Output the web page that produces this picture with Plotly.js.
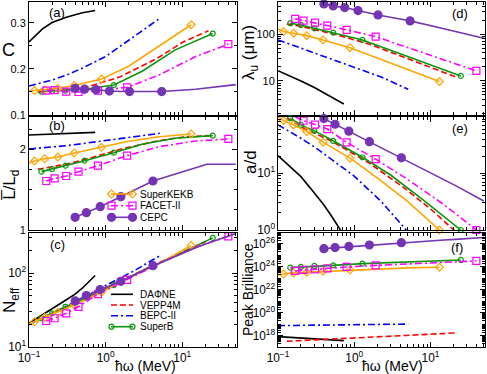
<!DOCTYPE html>
<html>
<head>
<meta charset="utf-8">
<script src="https://cdn.plot.ly/plotly-3.0.1.min.js"></script>
<style>
  html, body { margin: 0; padding: 0; background: #fff; }
  #chart { width: 487px; height: 374px; }
</style>
</head>
<body>
<div id="chart"></div>
<script>
const W = 487, H = 374;

// photon energy grids (MeV) and the six quantities per machine:
// C, Lbar/Ld, N_eff, lambda_u (um), a/d, peak brilliance
const xDafne = [0.1, 0.15, 0.2, 0.3, 0.4, 0.5, 0.73];
const cDafne = [0.259, 0.287, 0.301, 0.312, 0.318, 0.322, 0.327];
const lDafne = [2.177, 2.183, 2.187, 2.193, 2.198, 2.202, 2.21];
const nDafne = [21, 27, 33, 43, 52, 63, 93];
const lamDafne = [16.6, 12.4, 10, 7.2, 5.6, 4.6, 3.2];
const adDafne = [20.4, 12.6, 8.7, 4.5, 2.75, 1.78, 0.81];
const brDafne = [8.1e17, 6.9e17, 6.3e17, 5.2e17, 4.7e17, 4.3e17, 3.6e17];

const xVepp = [0.13, 0.2, 0.3, 0.55, 1.55, 4.7, 10.4, 22];
const cVepp = [0.150, 0.152, 0.154, 0.160, 0.183, 0.223, 0.259, 0.283];
const lVepp = [1.752, 1.785, 1.814, 1.875, 2.0, 2.103, 2.152, 2.169];
const nVepp = [23, 28.5, 35, 47, 78, 135, 196, 280];
const lamVepp = [166, 148, 126, 100, 62, 31.5, 19.3, 12.0];
const adVepp = [95, 66, 51, 34.5, 15.3, 5.3, 2.25, 0.9];
const brVepp = [3.2e17, 3.6e17, 4.2e17, 5.0e17, 7.1e17, 1.02e18, 1.32e18, 1.7e18];

const xBepc = [0.1, 0.2, 0.31, 0.5, 1, 2.3, 5.1];
const cBepc = [0.163, 0.176, 0.187, 0.202, 0.227, 0.270, 0.310];
const lBepc = [2.004, 2.025, 2.045, 2.07, 2.107, 2.152, 2.198];
const nBepc = [20, 28.5, 36, 46, 68, 106, 172];
const lamBepc = [75.5, 50.1, 39.2, 29.2, 19.3, 12.0, 6.6];
const adBepc = [71, 41.3, 28.2, 17.6, 8.9, 3.1, 0.91];
const brBepc = [7.4e18, 7.9e18, 8.5e18, 8.9e18, 9.5e18, 1.0e19, 1.0e19];

const xSuperB = [0.145, 0.2, 0.3, 0.53, 1.28, 3, 8, 25];
const cSuperB = [0.151, 0.152, 0.153, 0.156, 0.165, 0.195, 0.241, 0.277];
const lSuperB = [1.723, 1.756, 1.797, 1.859, 1.958, 2.062, 2.136, 2.169];
const nSuperB = [24.5, 28.5, 35, 46, 69, 108, 170, 300];
const lamSuperB = [172, 158, 134, 108, 75.5, 45.5, 25.3, 12.8];
const adSuperB = [93, 71, 55.7, 37.2, 19.1, 9.3, 3.4, 1.0];
const brSuperB = [8.5e23, 9.8e23, 1.2e24, 1.35e24, 1.9e24, 2.34e24, 3.0e24, 4.0e24];

const xKekb = [0.1, 0.118, 0.16, 0.238, 0.39, 0.88, 2, 5, 13.1];
const cKekb = [0.152, 0.153, 0.155, 0.158, 0.164, 0.178, 0.206, 0.250, 0.296];
const lKekb = [1.83, 1.855, 1.882, 1.904, 1.955, 2.025, 2.10, 2.156, 2.19];
const nKekb = [20.5, 22, 25, 29.5, 37, 55, 86, 135, 237];
const lamKekb = [130, 114, 105, 93.3, 75.5, 51.6, 31, 17.5, 9.7];
const adKekb = [99.5, 84.7, 71, 54.2, 35.2, 18.4, 8.3, 3.2, 1.0];
const brKekb = [1.95e23, 2.4e23, 2.95e23, 3.3e23, 4.1e23, 5.4e23, 6.9e23, 8.1e23, 9.1e23];

const xFacet = [0.168, 0.216, 0.306, 0.443, 0.794, 1.91, 5, 15, 40];
const cFacet = [0.153, 0.154, 0.151, 0.150, 0.153, 0.160, 0.187, 0.227, 0.254];
const lFacet = [1.607, 1.64, 1.669, 1.723, 1.797, 1.921, 2.032, 2.103, 2.128];
const nFacet = [22.5, 24.5, 28.5, 35, 52, 81, 135, 225, 315];
const lamFacet = [213, 196, 177, 153, 124, 89, 52, 28.3, 16.4];
const adFacet = [99, 84, 72, 60, 35, 17.7, 7.8, 2.8, 1.0];
const brFacet = [4.4e23, 5.4e23, 6.0e23, 7.4e23, 9.8e23, 1.35e24, 1.78e24, 2.45e24, 3.3e24];

const xCepc = [0.4, 0.53, 0.56, 0.75, 0.85, 1.12, 1.58, 2.05, 4.15, 5.4, 15, 21, 50];
const cCepc = [0.158, 0.156, 0.156, 0.155, 0.154, 0.152, 0.151, 0.151, 0.150, 0.151, 0.156, 0.159, 0.166];
const lCepc = [1.157, 1.205, 1.215, 1.267, 1.289, 1.344, 1.413, 1.465, 1.607, 1.64, 1.771, 1.814, 1.814];
const nCepc = [42, 48, 49.6, 56.5, 60, 67, 77.5, 88, 126, 140, 220, 252, 345];
const lamCepc = [446, 404, 395, 372, 355, 321, 285, 259, 209, 193, 131, 115, 82];
const adCepc = [91.6, 75.7, 72.8, 59.7, 54.9, 45.5, 36, 30.1, 18.7, 15.6, 7.7, 6.1, 3.25];
const brCepc = [3.89e25, 4.47e25, 4.79e25, 5.62e25, 6.03e25, 6.92e25, 8.13e25, 9.12e25, 1.29e26, 1.45e26, 2.19e26, 2.51e26, 3.63e26];

// which points carry a symbol (the symbols are sparser than the curves)
const markKekb = [1, 2, 3, 4, 5, 8];
const markSuperB = [0, 1, 2, 3, 4, 7];
const markFacet = [0, 1, 2, 3, 4, 5, 8];
const markCepcA = [0, 1, 3, 5, 7, 9];
const markCepcB = [0, 2, 4, 6, 8];

const machines = [
  { name: 'DAΦNE', x: xDafne, y: [cDafne, lDafne, nDafne, lamDafne, adDafne, brDafne], color: '#000000', dash: 'solid' },
  { name: 'VEPP4M', x: xVepp, y: [cVepp, lVepp, nVepp, lamVepp, adVepp, brVepp], color: '#ff0000', dash: '6px,3px' },
  { name: 'BEPC-II', x: xBepc, y: [cBepc, lBepc, nBepc, lamBepc, adBepc, brBepc], color: '#0000ff', dash: '7px,3px,2px,3px' },
  { name: 'SuperB', x: xSuperB, y: [cSuperB, lSuperB, nSuperB, lamSuperB, adSuperB, brSuperB], color: '#0a960a', dash: 'solid',
    marker: { symbol: 'circle-open', size: 5 }, marks: Array(6).fill(markSuperB) },
  { name: 'SuperKEKB', x: xKekb, y: [cKekb, lKekb, nKekb, lamKekb, adKekb, brKekb], color: '#ffa500', dash: 'solid',
    marker: { symbol: 'diamond-open', size: 6 }, marks: Array(6).fill(markKekb) },
  { name: 'FACET-II', x: xFacet, y: [cFacet, lFacet, nFacet, lamFacet, adFacet, brFacet], color: '#ff00ff', dash: '7px,3px,2px,3px',
    marker: { symbol: 'square-open', size: 7 }, marks: Array(6).fill(markFacet) },
  { name: 'CEPC', x: xCepc, y: [cCepc, lCepc, nCepc, lamCepc, adCepc, brCepc], color: '#7434b4', dash: 'solid',
    marker: { symbol: 'circle', size: 8 }, marks: [markCepcA, markCepcB, markCepcB, markCepcA, markCepcB, markCepcB] }
];

// panels a..f -> axis ids
const panels = ['', '2', '3', '4', '5', '6'];

const traces = [];
machines.forEach(m => {
  panels.forEach((id, p) => {
    traces.push({
      x: m.x, y: m.y[p], xaxis: 'x' + id, yaxis: 'y' + id,
      mode: 'lines', line: { color: m.color, width: 1.6, dash: m.dash },
      showlegend: false, hoverinfo: 'skip'
    });
    if (m.marker) {
      const idx = m.marks[p];
      traces.push({
        x: idx.map(i => m.x[i]), y: idx.map(i => m.y[p][i]),
        xaxis: 'x' + id, yaxis: 'y' + id, mode: 'markers', cliponaxis: false,
        marker: { symbol: m.marker.symbol, size: m.marker.size, color: m.color, line: { color: m.color, width: 1.2 } },
        showlegend: false, hoverinfo: 'skip'
      });
    }
  });
});

const colsPx = [[29, 237], [278, 485]];
const rowsPx = [[2, 115], [117, 230], [232.5, 347]];
const xDom = c => [colsPx[c][0] / W, colsPx[c][1] / W];
const yDom = r => [1 - rowsPx[r][1] / H, 1 - rowsPx[r][0] / H];

const frame = {
  showline: true, linecolor: '#000', linewidth: 1, mirror: 'allticks',
  ticks: 'inside', ticklen: 5, tickcolor: '#000', tickwidth: 1,
  showgrid: false, zeroline: false, fixedrange: true
};
const logMinor = { ticks: 'inside', ticklen: 3, tickcolor: '#000', dtick: 'D1', showgrid: false };
const pow = { '1': '10<sup>0</sup>', '10': '10<sup>1</sup>' };

function xAxis(c, r, id, labels) {
  return Object.assign({}, frame, {
    type: 'log', range: [-1, 1.715], dtick: 1, domain: xDom(c), anchor: 'y' + id,
    exponentformat: 'power', labelalias: pow, showticklabels: labels,
    tickfont: { size: 9.5 }, minor: logMinor
  });
}
function yAxis(c, r, id, extra) {
  return Object.assign({}, frame, { domain: yDom(r), anchor: 'x' + id }, extra);
}

const layout = {
  width: W, height: H, margin: { l: 0, r: 0, t: 0, b: 0 },
  paper_bgcolor: '#fff', plot_bgcolor: '#fff', showlegend: false,
  font: { family: 'Liberation Sans, Arial, sans-serif', color: '#000', size: 11 },
  xaxis: xAxis(0, 0, '', false),
  xaxis2: xAxis(0, 1, '2', false),
  xaxis3: xAxis(0, 2, '3', true),
  xaxis4: xAxis(1, 0, '4', false),
  xaxis5: xAxis(1, 1, '5', false),
  xaxis6: xAxis(1, 2, '6', true),
  yaxis: yAxis(0, 0, '', { range: [0.1, 0.3455], dtick: 0.1, tickfont: { size: 11 },
    minor: { ticks: 'inside', ticklen: 3, tickcolor: '#000', dtick: 0.05, showgrid: false } }),
  yaxis2: yAxis(0, 1, '2', { range: [1, 2.4], dtick: 1, tickfont: { size: 11 },
    minor: { ticks: 'inside', ticklen: 3, tickcolor: '#000', dtick: 0.25, showgrid: false } }),
  yaxis3: yAxis(0, 2, '3', { type: 'log', range: [1, 2.55], dtick: 1, exponentformat: 'power',
    labelalias: pow, tickfont: { size: 9.5 }, minor: logMinor }),
  yaxis4: yAxis(1, 0, '4', { type: 'log', range: [0.27, 2.69], dtick: 1, exponentformat: 'none',
    tickfont: { size: 11 }, minor: logMinor }),
  yaxis5: yAxis(1, 1, '5', { type: 'log', range: [0, 1.99], dtick: 1, exponentformat: 'power',
    labelalias: pow, tickfont: { size: 9.5 }, minor: logMinor }),
  yaxis6: yAxis(1, 2, '6', { type: 'log', range: [17, 27], dtick: 2, exponentformat: 'power',
    tickfont: { size: 9.5 }, minor: logMinor }),
  annotations: [],
  shapes: []
};

function note(text, x, y, extra) {
  return Object.assign({
    text: text, x: x / W, y: 1 - y / H, xref: 'paper', yref: 'paper',
    showarrow: false, xanchor: 'center', yanchor: 'middle', font: { size: 13 }
  }, extra);
}

// panel tags
[['(a)', 57, 12], ['(b)', 57, 125], ['(c)', 57, 244], ['(d)', 460, 13], ['(e)', 460, 128], ['(f)', 457, 247]]
  .forEach(t => layout.annotations.push(note(t[0], t[1], t[2])));

// axis titles
layout.annotations.push(
  note('C', 8, 50, { font: { size: 18 } }),
  note('L\u0305/L<sub>d</sub>', 11, 185, { textangle: -90, font: { size: 17 } }),
  note('N<sub>eff</sub>', 11, 300, { textangle: -90, font: { size: 17 } }),
  note('λ<sub>u</sub> (μm)', 250, 52, { textangle: -90, font: { size: 17 } }),
  note('a/d', 251, 162, { textangle: -90, font: { size: 17 } }),
  note('Peak Brilliance', 248, 290, { textangle: -90, font: { size: 14 } }),
  note('ħω (MeV)', 145, 366, { font: { size: 14 } }),
  note('ħω (MeV)', 392, 366, { font: { size: 14 } })
);

// legends drawn as shapes + text, compact like the original
function markShape(m, cx, cy) {
  const r = m.marker.size / 2;
  const s = {
    xref: 'paper', yref: 'paper', xsizemode: 'pixel', ysizemode: 'pixel',
    xanchor: cx / W, yanchor: 1 - cy / H,
    line: { color: m.color, width: 1.2 },
    fillcolor: m.marker.symbol.endsWith('open') ? 'rgba(0,0,0,0)' : m.color
  };
  if (m.marker.symbol.startsWith('circle')) return Object.assign(s, { type: 'circle', x0: -r, x1: r, y0: -r, y1: r });
  if (m.marker.symbol.startsWith('square')) return Object.assign(s, { type: 'rect', x0: -r, x1: r, y0: -r, y1: r });
  const d = r * 1.3;
  return Object.assign(s, { type: 'path', path: `M0,${-d}L${d},0L0,${d}L${-d},0Z` });
}

const legendRows = [
  ['SuperKEKB', 194], ['FACET-II', 205.7], ['CEPC', 217.3],
  ['DAΦNE', 294.3], ['VEPP4M', 305], ['BEPC-II', 315.7], ['SuperB', 326.7]
];
legendRows.forEach(([name, row]) => {
  const m = machines.find(k => k.name === name);
  layout.shapes.push({
    type: 'line', xref: 'paper', yref: 'paper',
    x0: 111 / W, x1: 133 / W, y0: 1 - row / H, y1: 1 - row / H,
    line: { color: m.color, width: 1.6, dash: m.dash }
  });
  if (m.marker) {
    layout.shapes.push(markShape(m, 111.5, row), markShape(m, 132.5, row));
  }
  layout.annotations.push(note(name, 138, row, { xanchor: 'left', font: { size: 10 } }));
});

Plotly.newPlot('chart', traces, layout, { staticPlot: true, displayModeBar: false });
</script>
</body>
</html>
